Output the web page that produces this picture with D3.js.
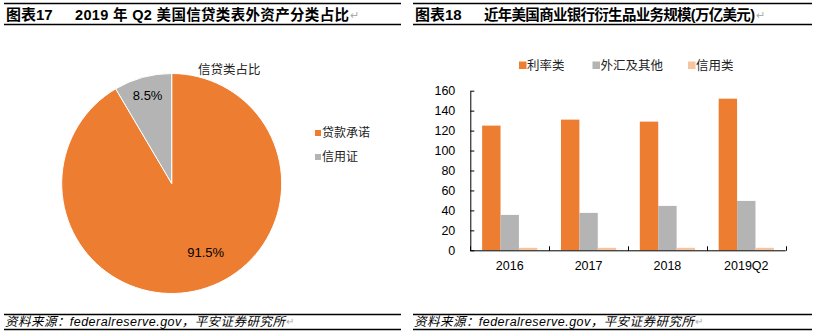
<!DOCTYPE html>
<html><head><meta charset="utf-8">
<script src="https://cdn.jsdelivr.net/npm/d3@7/dist/d3.min.js"></script>
<style>
body{margin:0;background:#fff;}
text{font-family:"Liberation Sans",Arial,"Noto Sans CJK SC",sans-serif;}
</style></head>
<body><svg id="c" width="817" height="335"></svg>
<script>
// ---- Data ----
const pieTitle = "信贷类占比";
const pieCategories = ["贷款承诺", "信用证"];
const pieValues = [91.5, 8.5];
const pieLabels = ["91.5%", "8.5%"];

const barCategories = ["2016", "2017", "2018", "2019Q2"];
const barSeries = ["利率类", "外汇及其他", "信用类"];
const rateValues = [125, 131, 129, 152];
const fxValues = [35.5, 37.5, 44.5, 49.5];
const creditValues = [2.5, 2.5, 2.5, 2.5];
const yTicks = [0, 20, 40, 60, 80, 100, 120, 140, 160];

const titleLeft = ["图表17", "2019 年 Q2 美国信贷类表外资产分类占比"];
const titleRight = ["图表18", "近年美国商业银行衍生品业务规模(万亿美元)"];
const sourceText = "资料来源：federalreserve.gov，平安证券研究所";

(function () {
const ORANGE = "#ED7D31", GRAY = "#B4B4B4", PINK = "#F7C4A0";

const svg = d3.select("#c");

// ---- Frames: titles and footnotes ----
function frame(x0, x1, title, titleW) {
  [3.5, 24.5, 314.5, 329.5].forEach(yy => {
    svg.append("line").attr("x1", x0).attr("x2", x1).attr("y1", yy).attr("y2", yy).attr("stroke", "#000").attr("stroke-width", 1.3);
  });
  svg.append("text").attr("x", x0 + 2).attr("y", 19.5).attr("font-size", 15).attr("font-weight", "bold").text(title[0]);
  svg.append("text").attr("x", x0 + 71).attr("y", 19.5).attr("font-size", 14.5).attr("font-weight", "bold")
    .attr("textLength", titleW).attr("lengthAdjust", "spacing").text(title[1]);
  svg.append("text").attr("x", x0 + 71 + titleW + 1).attr("y", 19).attr("font-size", 11).attr("fill", "#aaa").text("↵");
  svg.append("text").attr("x", x0 + 1).attr("y", 325.5).attr("font-size", 12.5).attr("font-style", "italic")
    .attr("textLength", 280).attr("lengthAdjust", "spacing").text(sourceText);
  svg.append("text").attr("x", x0 + 282).attr("y", 325).attr("font-size", 10).attr("fill", "#aaa").text("↵");
}
frame(4, 401, titleLeft, 274);
frame(413, 812, titleRight, 271);

// ---- Pie ----
const cx = 171.7, cy = 183.5, R = 110;
const pieColors = d3.scaleOrdinal().domain(pieCategories).range([ORANGE, GRAY]);
const pieData = d3.pie().sort(null).value((d, i) => pieValues[i])(pieCategories);
const arc = d3.arc().innerRadius(0).outerRadius(R);
const pg = svg.append("g").attr("transform", `translate(${cx},${cy})`);
pg.selectAll("path").data(pieData).join("path")
  .attr("d", arc).attr("fill", d => pieColors(d.data))
  .attr("stroke", "#fff").attr("stroke-width", 1);
const labelPos = (d, i) => {
  const a = i === 0 ? d.startAngle + 0.467 * (d.endAngle - d.startAngle) : (d.startAngle + d.endAngle) / 2;
  const r = i === 0 ? 0.70 * R : 0.83 * R;
  return [r * Math.sin(a), -r * Math.cos(a)];
};
pg.selectAll("text.lbl").data(pieData).join("text").attr("class", "lbl")
  .attr("x", (d, i) => labelPos(d, i)[0]).attr("y", (d, i) => labelPos(d, i)[1])
  .attr("text-anchor", "middle").attr("dominant-baseline", "central")
  .attr("font-size", 13).attr("fill", "#000").text((d, i) => pieLabels[i]);
svg.append("text").attr("x", 198).attr("y", 70).attr("dominant-baseline", "central")
  .attr("font-size", 12.5).attr("fill", "#222").text(pieTitle);
pieCategories.forEach((c, i) => {
  const yy = 133 + i * 24;
  svg.append("rect").attr("x", 315).attr("y", yy - 3).attr("width", 6).attr("height", 6).attr("fill", pieColors(c));
  svg.append("text").attr("x", 322).attr("y", yy).attr("dominant-baseline", "central").attr("font-size", 12).attr("fill", "#222").text(c);
});

// ---- Bar chart ----
const pLeft = 470.3, pRight = 785.7, pTop = 90.7, pBottom = 250.3;
const y = d3.scaleLinear().domain([0, 160]).range([pBottom, pTop]);
const x0 = d3.scaleBand().domain(barCategories).range([pLeft, pRight]).paddingInner(0.3).paddingOuter(0.15);
const x1 = d3.scaleBand().domain(barSeries).range([0, x0.bandwidth()]);
const barColors = d3.scaleOrdinal().domain(barSeries).range([ORANGE, GRAY, PINK]);
const seriesValues = [rateValues, fxValues, creditValues];

const bg = svg.append("g");
barSeries.forEach((s, si) => {
  bg.append("g").selectAll("rect").data(barCategories).join("rect")
    .attr("x", c => x0(c) + x1(s)).attr("width", x1.bandwidth())
    .attr("y", (c, ci) => y(seriesValues[si][ci]))
    .attr("height", (c, ci) => pBottom - y(seriesValues[si][ci]))
    .attr("fill", barColors(s));
});

const yAxis = d3.axisLeft(y).tickValues(yTicks).tickSizeInner(-4).tickSizeOuter(0).tickPadding(15);
const ya = svg.append("g").attr("transform", `translate(${pLeft},0)`).call(yAxis);
ya.selectAll("text").attr("font-size", 12.5).attr("fill", "#000").attr("font-family", "Liberation Sans, Arial, sans-serif");
ya.select(".domain").attr("stroke", "#000");
ya.selectAll("line").attr("stroke", "#000");

const xa = svg.append("g");
xa.append("line").attr("x1", pLeft).attr("x2", pRight).attr("y1", pBottom + 0.5).attr("y2", pBottom + 0.5).attr("stroke", "#000");
const step = x0.step();
d3.range(barCategories.length + 1).forEach(i => {
  const xx = Math.round(pLeft + i * step) + 0.5;
  xa.append("line").attr("x1", xx).attr("x2", xx).attr("y1", pBottom - 4).attr("y2", pBottom + 0.5).attr("stroke", "#000");
});
xa.selectAll("text").data(barCategories).join("text")
  .attr("x", c => x0(c) + x0.bandwidth() / 2).attr("y", 266)
  .attr("text-anchor", "middle").attr("dominant-baseline", "central")
  .attr("font-size", 12.5).attr("fill", "#000").text(c => c);

const legX = [519, 592.5, 688];
barSeries.forEach((s, i) => {
  svg.append("rect").attr("x", legX[i]).attr("y", 61.5).attr("width", 7.5).attr("height", 7.5).attr("fill", barColors(s));
  svg.append("text").attr("x", legX[i] + 8).attr("y", 65.5).attr("dominant-baseline", "central")
    .attr("font-size", 12.5).attr("fill", "#222").text(s);
});
})();
</script></body></html>
